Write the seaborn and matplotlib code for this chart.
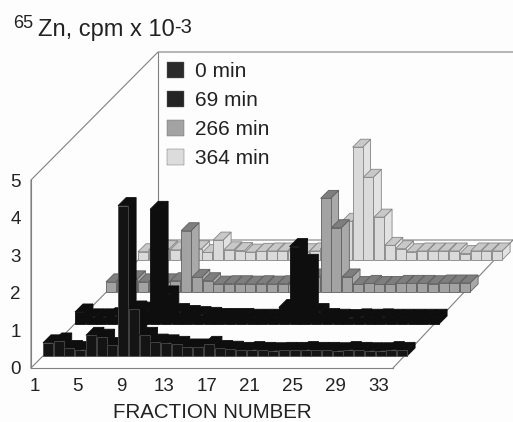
#!/usr/bin/env python3
import numpy as np
import pandas as pd
import matplotlib
matplotlib.use('Agg')
import matplotlib.pyplot as plt
import seaborn as sns
from matplotlib.patches import Patch, Polygon
from matplotlib.transforms import Affine2D

# ── Data ───────────────────────────────────────────────────────────
fractions = list(range(1, 35))
min_0 = [.35, .40, .20, .17, .55, .50, .28, 4.00, 1.25, .55, .37, .35, .31, .24, .24, .31, .20,
         .18, .15, .17, .15, .14, .15, .15, .17, .15, .15, .14, .17, .15, .14, .14, .17, .15]
min_69 = [.32, .19, .19, .22, .25, .39, .37, 3.05, .80, .33, .28, .25, .23, .20, .20, .20, .18,
          .18, .18, .44, 2.06, 1.64, .33, .20, .18, .17, .19, .18, .19, .18, .18, .18, .18, .18]
min_266 = [.27, .30, .35, .27, .27, .27, .30, 1.63, .39, .30, .21, .22, .22, .21, .22, .21, .22,
           .22, .25, .40, 2.49, 1.71, .40, .20, .23, .20, .20, .23, .23, .23, .22, .24, .24, .24]
min_364 = [.22, .27, .30, .27, .27, .30, .20, .53, .27, .25, .21, .23, .24, .24, .24, .22, .24,
           .30, .35, 1.03, 3.00, 2.20, 1.14, .39, .30, .22, .24, .24, .24, .24, .17, .24, .24, .24]
series_labels = ['0 min', '69 min', '266 min', '364 min']
y_ticks = [0, 1, 2, 3, 4, 5]
x_ticks = [1, 5, 9, 13, 17, 21, 25, 29, 33]

# ── Geometry of the oblique view (pixels) ──────────────────────────
W, H = 513, 422
PX_F = 10.73      # px per fraction
PX_V = 37.6       # px per cpm unit
X0, Y0 = 35, 368  # where fraction 1 / value 0 sit
ROW_DX = [13, 45, 76, 108]
ROW_DY = [12, 44, 76, 108]
DEPTH = 8
BAR_W = 10 / PX_F

FRONT = ['#141414', '#0e0e0e', '#a3a3a3', '#dadada']
SIDE = ['#0e0e0e', '#0e0e0e', '#a9a9a9', '#e2e2e2']
TOP = ['#0e0e0e', '#0e0e0e', '#7e7e7e', '#c8c8c8']
EDGE_FRONT = ['#4a4a4a', '#0e0e0e', '#606060', '#858585']
EDGE_BACK = ['#0e0e0e', '#0e0e0e', '#606060', '#858585']
LEGEND_FILL = ['#2a2a2a', '#242424', '#a3a3a3', '#dcdcdc']
LINE = '#808080'
TEXT = '#222222'


def fx(px):
    return 1 + (px - X0) / PX_F


def vy(py):
    return (Y0 - py) / PX_V


sns.set_theme(style='white')
plt.rcParams['font.family'] = ['Liberation Sans', 'DejaVu Sans']

fig = plt.figure(figsize=(W / 100, H / 100), dpi=100, facecolor='#fdfdfd')
ax = fig.add_axes([0, 0, 1, 1], facecolor='#fdfdfd')

# ── Walls and floor ────────────────────────────────────────────────
walls = [
    ([31, 31, 158, W], [368, 180, 52, 52]),
    ([158, 158], [52, 240]),
    ([31, 158, W], [368, 240, 240]),
    ([393, W], [368, 240]),
]
for xs, ys in walls:
    ax.plot(fx(np.array(xs)), vy(np.array(ys)), color=LINE, lw=0.8, zorder=1)

# ── Bars, back row first; left to right inside a row ───────────────
rows = [min_0, min_69, min_266, min_364]
for r in [3, 2, 1, 0]:
    dx, dy = ROW_DX[r] / PX_F, ROW_DY[r] / PX_V
    d_f, d_v = DEPTH / PX_F, DEPTH / PX_V
    base_z = 10 + (3 - r) * 100
    df = pd.DataFrame({'fraction': fractions, 'cpm': rows[r]})

    n_before = len(ax.patches)
    sns.barplot(data=df, x='fraction', y='cpm', native_scale=True, width=BAR_W, gap=0,
                color=FRONT[r], saturation=1, edgecolor=EDGE_FRONT[r], linewidth=0.6,
                errorbar=None, ax=ax, transform=Affine2D().translate(dx, dy) + ax.transData)
    for i, bar in enumerate(ax.patches[n_before:]):
        bar.set_zorder(base_z + i + 0.5)

    for i, (f, v) in enumerate(zip(fractions, rows[r])):
        x_l = f - BAR_W / 2 + dx
        x_r = f + BAR_W / 2 + dx
        y_b, y_t = dy, dy + v
        side = [(x_r, y_b), (x_r + d_f, y_b + d_v), (x_r + d_f, y_t + d_v), (x_r, y_t)]
        top = [(x_l, y_t), (x_r, y_t), (x_r + d_f, y_t + d_v), (x_l + d_f, y_t + d_v)]
        ax.add_patch(Polygon(side, closed=True, fc=SIDE[r], ec=EDGE_BACK[r], lw=0.6, zorder=base_z + i))
        ax.add_patch(Polygon(top, closed=True, fc=TOP[r], ec=EDGE_BACK[r], lw=0.6, zorder=base_z + i))

# ── Axes ───────────────────────────────────────────────────────────
ax.set_xlim(fx(0), fx(W))
ax.set_ylim(vy(H), vy(0))
for name in ['top', 'right']:
    ax.spines[name].set_visible(False)
ax.spines['bottom'].set_position(('data', 0))
ax.spines['bottom'].set_bounds(fx(31), fx(393))
ax.spines['left'].set_position(('data', fx(31)))
ax.spines['left'].set_bounds(0, 5)
for name in ['bottom', 'left']:
    ax.spines[name].set_color(LINE)
    ax.spines[name].set_linewidth(0.8)

ax.set_xticks(x_ticks)
ax.set_xticklabels([str(t) for t in x_ticks])
ax.set_yticks(y_ticks)
ax.tick_params(axis='both', direction='in', length=6.5, width=0.8, color=LINE,
               labelsize=13.5, labelcolor=TEXT)
ax.tick_params(axis='x', pad=7.5)
ax.tick_params(axis='y', pad=7.5)
ax.grid(False)

ax.set_xlabel('FRACTION NUMBER', fontsize=14.8, color=TEXT)
ax.set_ylabel('')
ax.xaxis.set_label_coords(212 / W, 1 - 413 / H)
ax.xaxis.label.set_va('center')

# title pieces: superscripts are separate texts so they sit like the original
ax.text(13 / W, 1 - 28 / H, '65', transform=ax.transAxes, fontsize=13, color=TEXT, va='baseline')
ax.text(38 / W, 1 - 36 / H, 'Zn, cpm x 10', transform=ax.transAxes, fontsize=17, color=TEXT, va='baseline')
ax.text(174 / W, 1 - 33 / H, '-3', transform=ax.transAxes, fontsize=14.5, color=TEXT, va='baseline')

# ── Legend ─────────────────────────────────────────────────────────
handles = [Patch(facecolor=LEGEND_FILL[i], edgecolor='#666666', linewidth=0.3) for i in range(4)]
ax.legend(handles, series_labels, loc='upper left', bbox_to_anchor=(167 / W, 1 - 62 / H),
          frameon=False, fontsize=15, labelcolor=TEXT, handlelength=0.82, handleheight=0.82,
          handletextpad=0.53, labelspacing=0.46, borderaxespad=0, borderpad=0)

fig.savefig('out.png', dpi=100, facecolor=fig.get_facecolor())
